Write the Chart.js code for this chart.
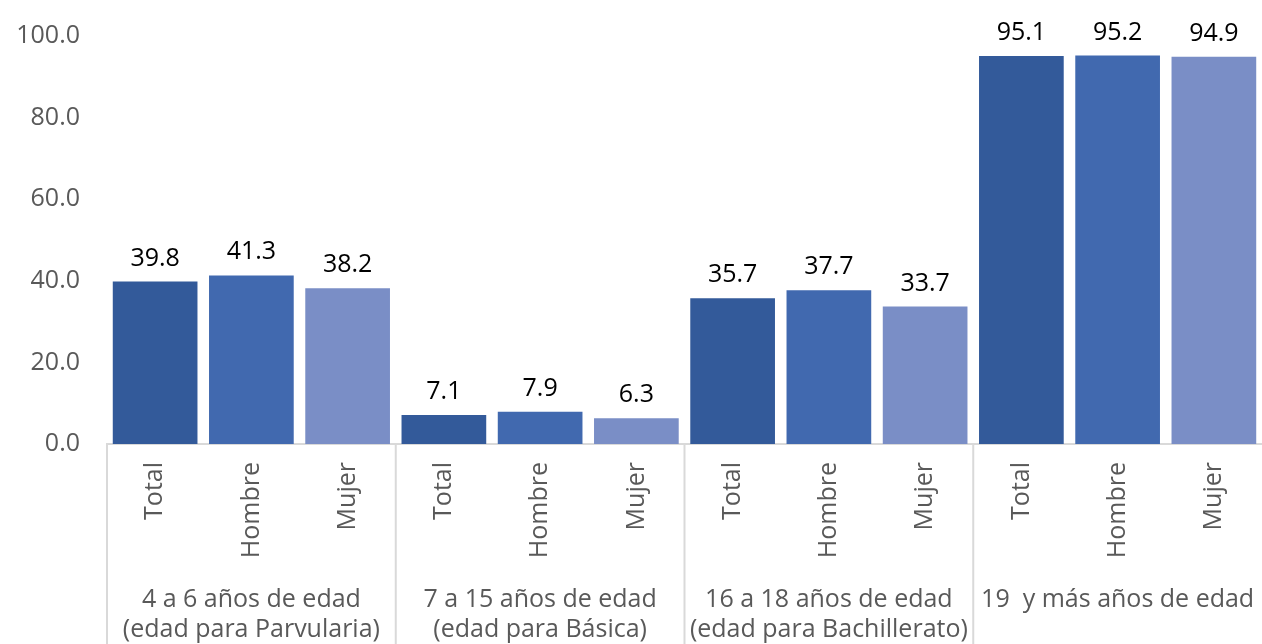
<!DOCTYPE html>
<html>
<head>
<meta charset="utf-8">
<script src="https://cdn.jsdelivr.net/npm/chart.js@4"></script>
<style>
  html, body { margin: 0; padding: 0; background: #fff; }
  #wrap { width: 1262px; height: 644px; }
</style>
</head>
<body>
<div id="wrap"><canvas id="grafico"></canvas></div>
<script>
// datos
var grupos = [
    ['4 a 6 años de edad', '(edad para Parvularia)'],
    ['7 a 15 años de edad', '(edad para Básica)'],
    ['16 a 18 años de edad', '(edad para Bachillerato)'],
    ['19  y más años de edad']
];
var sexos = ['Total', 'Hombre', 'Mujer'];
var valores = [39.8, 41.3, 38.2, 7.1, 7.9, 6.3, 35.7, 37.7, 33.7, 95.1, 95.2, 94.9];
var yTicks = [0, 20, 40, 60, 80, 100];

var colores = ['#335A9A', '#4169AF', '#7A8EC6'];
var fuente = "'Open Sans', sans-serif";

var etiquetas = [];
var fondos = [];
for (var g = 0; g < grupos.length; g++) {
    for (var s = 0; s < sexos.length; s++) {
        etiquetas.push(sexos[s]);
        fondos.push(colores[s]);
    }
}

// valores encima de las barras
var etiquetasValor = {
    id: 'etiquetasValor',
    afterDatasetsDraw: function(chart) {
        var ctx = chart.ctx;
        var meta = chart.getDatasetMeta(0);
        ctx.save();
        ctx.font = "25px " + fuente;
        ctx.fillStyle = '#000000';
        ctx.textAlign = 'center';
        ctx.textBaseline = 'alphabetic';
        meta.data.forEach(function(bar, i) {
            ctx.fillText(valores[i].toFixed(1), bar.x, bar.y - 16);
        });
        ctx.restore();
    }
};

// separadores y nombres de grupo
var gruposEje = {
    id: 'gruposEje',
    afterDraw: function(chart) {
        var ctx = chart.ctx;
        var x = chart.scales.x;
        var paso = x.getPixelForValue(1) - x.getPixelForValue(0);
        var y0 = chart.chartArea.bottom;
        ctx.save();
        ctx.strokeStyle = '#D9D9D9';
        ctx.lineWidth = 2;
        for (var g = 0; g < grupos.length; g++) {
            var ini = x.getPixelForValue(g * 3) - paso / 2;
            ctx.beginPath();
            ctx.moveTo(ini, y0);
            ctx.lineTo(ini, chart.height);
            ctx.stroke();

            var centro = x.getPixelForValue(g * 3 + 1);
            ctx.font = "25px " + fuente;
            ctx.fillStyle = '#595959';
            ctx.textAlign = 'center';
            ctx.textBaseline = 'alphabetic';
            for (var l = 0; l < grupos[g].length; l++) {
                ctx.fillText(grupos[g][l], centro, 607 + l * 30);
            }
        }
        ctx.restore();
    }
};

var ctx = document.getElementById('grafico');
var grafico = new Chart(ctx, {
    type: 'bar',
    data: {
        labels: etiquetas,
        datasets: [{
            data: valores,
            backgroundColor: fondos,
            barPercentage: 0.88,
            categoryPercentage: 1.0
        }]
    },
    options: {
        responsive: true,
        maintainAspectRatio: false,
        animation: false,
        layout: { padding: { top: 36, right: 0, bottom: 0, left: 0 } },
        plugins: {
            legend: { display: false },
            tooltip: { enabled: false }
        },
        scales: {
            x: {
                grid: { display: false, drawTicks: false },
                border: { display: true, color: '#D9D9D9', width: 2 },
                ticks: {
                    color: '#595959',
                    font: { family: fuente, size: 25 },
                    minRotation: 90,
                    maxRotation: 90,
                    padding: 18,
                    autoSkip: false
                },
                afterFit: function(scale) {
                    scale.height = 200;
                    scale.paddingLeft = 0;
                    scale.paddingRight = 0;
                }
            },
            y: {
                min: 0,
                max: 100,
                grid: { display: false, drawTicks: false },
                border: { display: false },
                afterBuildTicks: function(scale) {
                    scale.ticks = yTicks.map(function(v) { return { value: v }; });
                },
                ticks: {
                    color: '#595959',
                    font: { family: fuente, size: 25 },
                    padding: 27,
                    callback: function(v) { return Number(v).toFixed(1); }
                },
                afterFit: function(scale) {
                    scale.width = 107;
                    scale.paddingTop = 0;
                    scale.paddingBottom = 0;
                }
            }
        }
    },
    plugins: [etiquetasValor, gruposEje]
});
</script>
</body>
</html>
